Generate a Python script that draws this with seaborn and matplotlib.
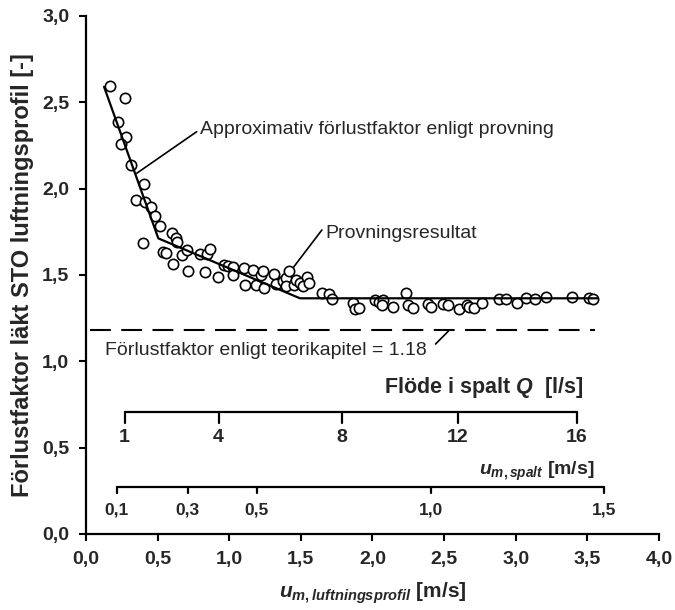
import matplotlib
matplotlib.use("Agg")
import matplotlib.pyplot as plt
import numpy as np
import pandas as pd
import seaborn as sns

# measured points (u_m,luftningsprofil [m/s], loss factor [-])
meas_u = [0.168, 0.272, 0.225, 0.277, 0.244, 0.312, 0.407, 0.351, 0.410, 0.456,
          0.482, 0.520, 0.400, 0.598, 0.625, 0.637, 0.538, 0.561, 0.668, 0.702,
          0.605, 0.709, 0.796, 0.845, 0.868, 0.831, 0.921, 0.961, 0.993, 1.026,
          1.028, 1.103, 1.112, 1.168, 1.187, 1.220, 1.234, 1.243, 1.310, 1.323,
          1.373, 1.396, 1.419, 1.393, 1.449, 1.466, 1.494, 1.515, 1.545, 1.558,
          1.649, 1.695, 1.719, 1.862, 1.878, 1.908, 2.017, 2.047, 2.071, 2.064,
          2.145, 2.234, 2.250, 2.281, 2.390, 2.406, 2.490, 2.529, 2.606, 2.658,
          2.676, 2.709, 2.762, 2.885, 2.932, 3.007, 3.072, 3.134, 3.208, 3.391,
          3.513, 3.541]
meas_k = [2.596, 2.523, 2.388, 2.297, 2.259, 2.137, 2.026, 1.937, 1.924, 1.896,
          1.839, 1.782, 1.684, 1.743, 1.716, 1.689, 1.636, 1.630, 1.616, 1.647,
          1.564, 1.523, 1.624, 1.622, 1.649, 1.517, 1.491, 1.558, 1.554, 1.548,
          1.500, 1.539, 1.442, 1.526, 1.442, 1.500, 1.521, 1.423, 1.506, 1.449,
          1.467, 1.481, 1.523, 1.439, 1.442, 1.471, 1.455, 1.434, 1.490, 1.452,
          1.396, 1.392, 1.363, 1.340, 1.301, 1.311, 1.355, 1.345, 1.355, 1.326,
          1.316, 1.394, 1.326, 1.311, 1.330, 1.316, 1.330, 1.326, 1.301, 1.326,
          1.316, 1.307, 1.336, 1.359, 1.359, 1.336, 1.365, 1.361, 1.370, 1.371,
          1.365, 1.359]

# approximate loss factor from tests (piecewise linear)
approx_u = [0.126, 0.505, 1.494, 3.57]
approx_k = [2.59, 1.712, 1.365, 1.365]

# theory value
theory_k = 1.18
theory_u = [0.03, 3.55]

# secondary scales drawn inside the chart
q_ticks = [1, 4, 8, 12, 16]
q_pos = [0.270, 0.925, 1.785, 2.595, 3.425]
spalt_ticks = ["0,1", "0,3", "0,5", "1,0", "1,5"]
spalt_pos = [0.215, 0.709, 1.192, 2.408, 3.618]

x_ticks = np.arange(0, 4.01, 0.5)
y_ticks = np.arange(0, 3.01, 0.5)

sns.set_theme(style="white")
plt.rcParams["font.family"] = ["Liberation Sans", "DejaVu Sans"]
plt.rcParams["mathtext.fontset"] = "custom"
plt.rcParams["mathtext.it"] = "Liberation Sans:bold:italic"
plt.rcParams["mathtext.rm"] = "Liberation Sans:bold"
plt.rcParams["mathtext.bf"] = "Liberation Sans:bold"

fig = plt.figure(figsize=(6.75, 6.1), dpi=100)
ax = fig.add_axes([0.1274, 0.1246, 0.8489, 0.8492])

meas = pd.DataFrame({"u": meas_u, "k": meas_k})
approx = pd.DataFrame({"u": approx_u, "k": approx_k})

sns.scatterplot(data=meas, x="u", y="k", ax=ax, marker="o", s=55,
                facecolor="white", edgecolor="black", linewidth=1.2, zorder=3)
sns.lineplot(data=approx, x="u", y="k", ax=ax, sort=False, estimator=None,
             color="black", linewidth=1.6, zorder=4)
ax.plot(theory_u, [theory_k, theory_k], color="black", linewidth=1.5,
        dashes=(10, 5), zorder=2)

# annotations with leader lines
ax.text(0.796, 2.34, "Approximativ förlustfaktor enligt provning", fontsize=14,
        va="center", ha="left")
ax.plot([0.773, 0.354], [2.330, 2.089], color="black", linewidth=1.2)
ax.text(1.668, 1.743, "Provningsresultat", fontsize=14, va="center", ha="left")
ax.plot([1.647, 1.445], [1.761, 1.541], color="black", linewidth=1.2)
ax.text(0.133, 1.06, "Förlustfaktor enligt teorikapitel = 1.18", fontsize=14,
        va="center", ha="left")
ax.plot([2.44, 2.53], [1.10, 1.175], color="black", linewidth=1.2)

# flow axis Q
q_y, q_tick_len = 0.708, 0.065
ax.plot([q_pos[0], q_pos[-1]], [q_y, q_y], color="black", linewidth=1.6)
for p, t in zip(q_pos, q_ticks):
    ax.plot([p, p], [q_y, q_y - q_tick_len], color="black", linewidth=1.6)
    ax.text(p, 0.556, str(t), fontsize=14, fontweight="bold", ha="center", va="center")
ax.text(3.47, 0.851, r"Flöde i spalt $Q$  [l/s]", fontsize=15.5, fontweight="bold",
        ha="right", va="center")

# velocity in gap axis
s_y, s_tick_len = 0.274, 0.035
ax.plot([spalt_pos[0], spalt_pos[-1]], [s_y, s_y], color="black", linewidth=1.6)
for p, t in zip(spalt_pos, spalt_ticks):
    ax.plot([p, p], [s_y, s_y - s_tick_len], color="black", linewidth=1.6)
    ax.text(p, 0.139, t, fontsize=12.5, fontweight="bold", ha="center", va="center")
ax.text(3.55, 0.362, r"$u_{m,spalt}$ [m/s]", fontsize=14, fontweight="bold",
        ha="right", va="center")

ax.set_xlim(0, 4.0)
ax.set_ylim(0, 3.0)
ax.set_xticks(x_ticks)
ax.set_yticks(y_ticks)
ax.set_xticklabels([f"{v:.1f}".replace(".", ",") for v in x_ticks],
                   fontsize=14, fontweight="bold")
ax.set_yticklabels([f"{v:.1f}".replace(".", ",") for v in y_ticks],
                   fontsize=14, fontweight="bold")
ax.tick_params(axis="both", direction="out", length=5, width=1.5, color="black",
               bottom=True, left=True, pad=7)
for side in ["top", "right"]:
    ax.spines[side].set_visible(False)
for side in ["left", "bottom"]:
    ax.spines[side].set_color("black")
    ax.spines[side].set_linewidth(1.6)

ax.set_xlabel(r"$u_{m,luftningsprofil}$ [m/s]", fontsize=15, fontweight="bold",
              labelpad=9)
ax.set_ylabel("Förlustfaktor läkt STO luftningsprofil [-]", fontsize=17,
              fontweight="bold", labelpad=6)

fig.savefig("out.png", dpi=100)
